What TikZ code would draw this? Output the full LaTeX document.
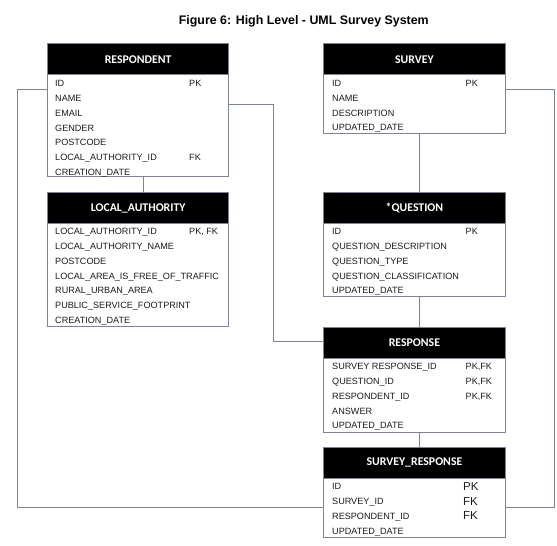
\documentclass[tikz,border=0pt]{standalone}
\usepackage{fontspec}
\setmainfont{Liberation Sans}
\newfontfamily\hdrfont{Carlito}
\definecolor{lnc}{HTML}{7D8595}
\definecolor{txc}{HTML}{1A1A1A}
\tikzset{
  hdr/.style={draw=lnc, line width=1pt, fill=black, minimum width=181.3pt, minimum height=31pt, inner sep=0pt, anchor=north west, text=white, font=\hdrfont\bfseries\fontsize{11.8}{12}\selectfont},
  bodybox/.style={draw=lnc, line width=1pt, minimum width=181.3pt, inner sep=0pt, anchor=north west},
  fld/.style={anchor=base west, inner sep=0pt, text=txc, font=\fontsize{9.1}{10}\selectfont},
  bigk/.style={anchor=base west, inner sep=0pt, text=txc, font=\fontsize{11.5}{12}\selectfont},
  conn/.style={draw=lnc, line width=1pt},
  ttl/.style={inner sep=0pt, text=black, font=\bfseries\fontsize{12.4}{14}\selectfont}
}
\begin{document}
\begin{tikzpicture}[x=1pt,y=-1pt]
\useasboundingbox (0,0) rectangle (557,546);
\node[ttl] (title) at (303.8,21) {Figure 6: High Level - UML Survey System};

% RESPONDENT
\node[bodybox, minimum height=101.4pt] (respb) at (47,74.3) {};
\node[hdr] (resph) at (47,43.3) {RESPONDENT};
% SURVEY
\node[bodybox, minimum height=59pt] (survb) at (323.3,74.3) {};
\node[hdr] (survh) at (323.3,43.3) {SURVEY};
% LOCAL_AUTHORITY
\node[bodybox, minimum height=102.7pt] (lab) at (47,223.3) {};
\node[hdr] (lah) at (47,192.3) {LOCAL\_AUTHORITY};
% QUESTION
\node[bodybox, minimum height=72.7pt] (qb) at (323.3,223.3) {};
\node[hdr] (qh) at (323.3,192.3) {*QUESTION};
% RESPONSE
\node[bodybox, minimum height=74.6pt] (rb) at (323.3,357.7) {};
\node[hdr] (rh) at (323.3,326.7) {RESPONSE};
% SURVEY_RESPONSE
\node[bodybox, minimum height=59pt] (srb) at (323.3,478.3) {};
\node[hdr] (srh) at (323.3,446.7) {SURVEY\_RESPONSE};

% RESPONDENT fields
\node[fld] (r1) at (55,86.5) {ID};
\node[fld] (r1k) at (189,86.5) {PK};
\node[fld] (r2) at (55,101.3) {NAME};
\node[fld] (r3) at (55,116.2) {EMAIL};
\node[fld] (r4) at (55,131) {GENDER};
\node[fld] (r5) at (55,145.8) {POSTCODE};
\node[fld] (r6) at (55,160.7) {LOCAL\_AUTHORITY\_ID};
\node[fld] (r6k) at (189,160.7) {FK};
\node[fld] (r7) at (55,175.5) {CREATION\_DATE};

% SURVEY fields
\node[fld] (s1) at (332,86.5) {ID};
\node[fld] (s1k) at (465.5,86.5) {PK};
\node[fld] (s2) at (332,101.3) {NAME};
\node[fld] (s3) at (332,116) {DESCRIPTION};
\node[fld] (s4) at (332,130.7) {UPDATED\_DATE};

% LOCAL_AUTHORITY fields
\node[fld] (l1) at (55,234.9) {LOCAL\_AUTHORITY\_ID};
\node[fld] (l1k) at (189,234.9) {PK, FK};
\node[fld] (l2) at (55,249.6) {LOCAL\_AUTHORITY\_NAME};
\node[fld] (l3) at (55,264.3) {POSTCODE};
\node[fld] (l4) at (55,279) {LOCAL\_AREA\_IS\_FREE\_OF\_TRAFFIC};
\node[fld] (l5) at (55,293.7) {RURAL\_URBAN\_AREA};
\node[fld] (l6) at (55,308.4) {PUBLIC\_SERVICE\_FOOTPRINT};
\node[fld] (l7) at (55,323.1) {CREATION\_DATE};

% QUESTION fields
\node[fld] (q1) at (332,234.9) {ID};
\node[fld] (q1k) at (465.5,234.9) {PK};
\node[fld] (q2) at (332,249.6) {QUESTION\_DESCRIPTION};
\node[fld] (q3) at (332,264.3) {QUESTION\_TYPE};
\node[fld] (q4) at (332,279) {QUESTION\_CLASSIFICATION};
\node[fld] (q5) at (332,293.7) {UPDATED\_DATE};

% RESPONSE fields
\node[fld] (p1) at (332,369.9) {SURVEY RESPONSE\_ID};
\node[fld] (p1k) at (465.5,369.9) {PK,FK};
\node[fld] (p2) at (332,384.6) {QUESTION\_ID};
\node[fld] (p2k) at (465.5,384.6) {PK,FK};
\node[fld] (p3) at (332,399.3) {RESPONDENT\_ID};
\node[fld] (p3k) at (465.5,399.3) {PK,FK};
\node[fld] (p4) at (332,414) {ANSWER};
\node[fld] (p5) at (332,428.7) {UPDATED\_DATE};

% SURVEY_RESPONSE fields
\node[fld] (t1) at (332,489.9) {ID};
\node[bigk] (t1k) at (463,490.6) {PK};
\node[fld] (t2) at (332,504.9) {SURVEY\_ID};
\node[bigk] (t2k) at (463,505) {FK};
\node[fld] (t3) at (332,519.2) {RESPONDENT\_ID};
\node[bigk] (t3k) at (463,519.3) {FK};
\node[fld] (t4) at (332,534.2) {UPDATED\_DATE};

% connectors
\coordinate (cl1) at (17.3,89.3);
\coordinate (cl2) at (17.3,507.5);
\coordinate (cm1) at (273.3,104);
\coordinate (cm2) at (273.3,341.7);
\coordinate (cr1) at (554.5,89.3);
\coordinate (cr2) at (554.5,507.5);
\coordinate (cx) at (143.3,0);
\coordinate (cq) at (419.3,0);

\draw[conn] (respb.west |- cl1) -- (cl1) -- (cl2) -- (srb.west |- cl2);
\draw[conn] (respb.east |- cm1) -- (cm1) -- (cm2) -- (rh.west |- cm2);
\draw[conn] (cx |- respb.south) -- (cx |- lah.north);
\draw[conn] (cq |- survb.south) -- (cq |- qh.north);
\draw[conn] (cq |- qb.south) -- (cq |- rh.north);
\draw[conn] (cq |- rb.south) -- (cq |- srh.north);
\draw[conn] (survb.east |- cr1) -- (cr1) -- (cr2) -- (srb.east |- cr2);
\end{tikzpicture}
\end{document}
